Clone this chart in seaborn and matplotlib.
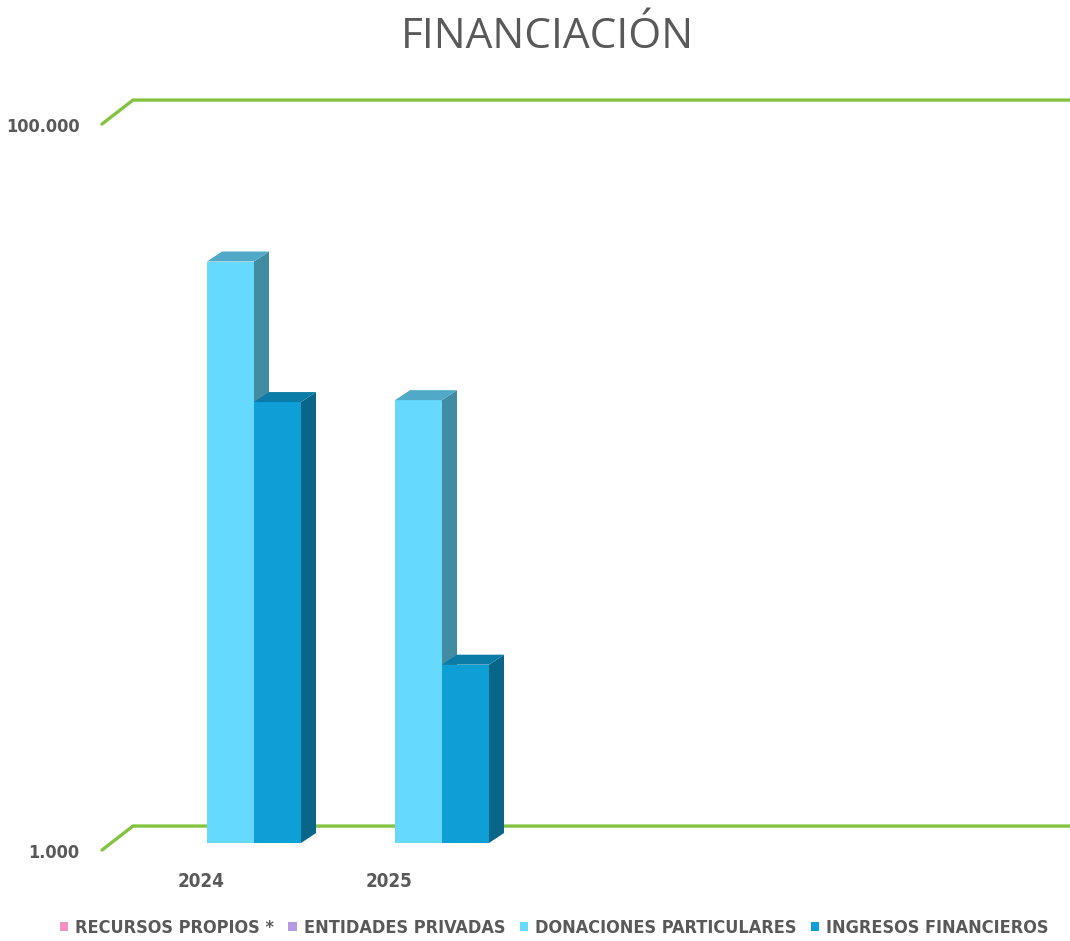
import matplotlib
matplotlib.use("Agg")
import matplotlib.pyplot as plt
import matplotlib.transforms as mtransforms
from matplotlib.patches import Patch, Polygon
from matplotlib.lines import Line2D
from matplotlib.ticker import NullLocator
from matplotlib.font_manager import FontProperties
import numpy as np
import pandas as pd
import seaborn as sns

# ---- data ----
years = ["2024", "2025", "2026", "2027", "2028"]
year_labels = ["2024", "2025", "", "", ""]
series = ["RECURSOS PROPIOS *", "ENTIDADES PRIVADAS",
          "DONACIONES PARTICULARES", "INGRESOS FINANCIEROS"]
recursos_propios = [np.nan, np.nan, np.nan, np.nan, np.nan]
entidades_privadas = [np.nan, np.nan, np.nan, np.nan, np.nan]
donaciones = [40000, 16600, np.nan, np.nan, np.nan]
ingresos = [16400, 3100, np.nan, np.nan, np.nan]
yticks = [1000, 100000]
ytick_labels = [f"{v:,.0f}".replace(",", ".") for v in yticks]

colors = ["#F48FC0", "#B49AE0", "#66D9FF", "#0E9FD6"]
grey = "#595959"
green = "#84C341"

df = pd.DataFrame({"year": years,
                   series[0]: recursos_propios,
                   series[1]: entidades_privadas,
                   series[2]: donaciones,
                   series[3]: ingresos})
df = df.melt(id_vars="year", var_name="serie", value_name="value").dropna()

sns.set_style("white")
plt.rcParams["font.family"] = ["DejaVu Sans"]

narrow = dict(family="DejaVu Sans", stretch="condensed", weight="bold")

fig = plt.figure(figsize=(10.7, 9.41), dpi=100)
ax = fig.add_axes([0.1056, 0.1041, 0.8785, 0.7715])

sns.barplot(data=df, x="year", y="value", hue="serie", order=years,
            hue_order=series, palette=dict(zip(series, colors)),
            width=1.0, saturation=1, legend=False, ax=ax)

ax.set_yscale("log")
ax.set_ylim(1000, 100000)
ax.set_xlim(-0.5, 4.5)
ax.yaxis.set_minor_locator(NullLocator())
ax.set_yticks(yticks, labels=ytick_labels)
ax.set_xticks(range(len(years)), labels=year_labels)
ax.set_xlabel("")
ax.set_ylabel("")
for s in ax.spines.values():
    s.set_visible(False)
ax.tick_params(axis="y", length=0, pad=24)
ax.tick_params(axis="x", length=0, pad=21)
for lab in ax.get_yticklabels():
    lab.set_fontproperties(FontProperties(size=13, **narrow))
    lab.set_color(grey)
    lab.set_transform(lab.get_transform() +
                      mtransforms.ScaledTranslation(0, -8 / 100, fig.dpi_scale_trans))
for lab in ax.get_xticklabels():
    lab.set_fontproperties(FontProperties(size=13.5, **narrow))
    lab.set_color(grey)
    lab.set_transform(lab.get_transform() +
                      mtransforms.ScaledTranslation(-6 / 100, 0, fig.dpi_scale_trans))

fig.canvas.draw()
ident = mtransforms.IdentityTransform()

# back wall gridlines with the little perspective step on the left
blend = mtransforms.blended_transform_factory(ax.transAxes, ax.transData)
for v in yticks:
    fx, fy = blend.transform((0, v))
    bx, by = blend.transform((1.2, v))
    pts = [(fx - 11, fy - 7), (fx + 20, fy + 17), (bx + 20, by + 17)]
    ax.add_line(Line2D([p[0] for p in pts], [p[1] for p in pts], transform=ident,
                       color=green, lw=2.4, clip_on=False, zorder=1,
                       solid_joinstyle="miter"))


def shade(c, f):
    r, g, b, a = c
    return (r * f, g * f, b * f, a)


# fake 3D depth on the bars
y0 = ax.get_ylim()[0]
bars = [p for p in ax.patches if np.isfinite(p.get_height()) and p.get_height() > 0]
bars = sorted(bars, key=lambda p: p.get_x())
dx, dy = 15, 10
for i, p in enumerate(bars):
    x0 = p.get_x()
    x1 = x0 + p.get_width()
    h = p.get_height()
    px0, ptop = ax.transData.transform((x0, h))
    px1, pbot = ax.transData.transform((x1, y0))
    fc = p.get_facecolor()
    z = 3 + i
    p.set_edgecolor("none")
    p.set_zorder(z)
    side = Polygon([(px1, pbot), (px1 + dx, pbot + dy), (px1 + dx, ptop + dy), (px1, ptop)],
                   closed=True, transform=ident, facecolor=shade(fc, 0.64),
                   edgecolor="none", zorder=z + 0.1, clip_on=False)
    top = Polygon([(px0, ptop), (px0 + dx, ptop + dy), (px1 + dx, ptop + dy), (px1, ptop)],
                  closed=True, transform=ident, facecolor=shade(fc, 0.78),
                  edgecolor="none", zorder=z + 0.2, clip_on=False)
    ax.add_artist(side)
    ax.add_artist(top)

fig.text(0.512, 0.961, "FINANCIACIÓN", ha="center", va="center",
         fontsize=30.5, color=grey, family=["Open Sans", "DejaVu Sans"])

handles = [Patch(facecolor=c, edgecolor="none") for c in colors]
leg = fig.legend(handles, series, loc="center", bbox_to_anchor=(0.518, 0.0138),
                 ncol=4, frameon=False, handlelength=0.45, handleheight=0.45,
                 handletextpad=0.4, columnspacing=0.8,
                 prop=FontProperties(size=13, **narrow))
for t in leg.get_texts():
    t.set_color(grey)

fig.savefig("out.png", dpi=100)
